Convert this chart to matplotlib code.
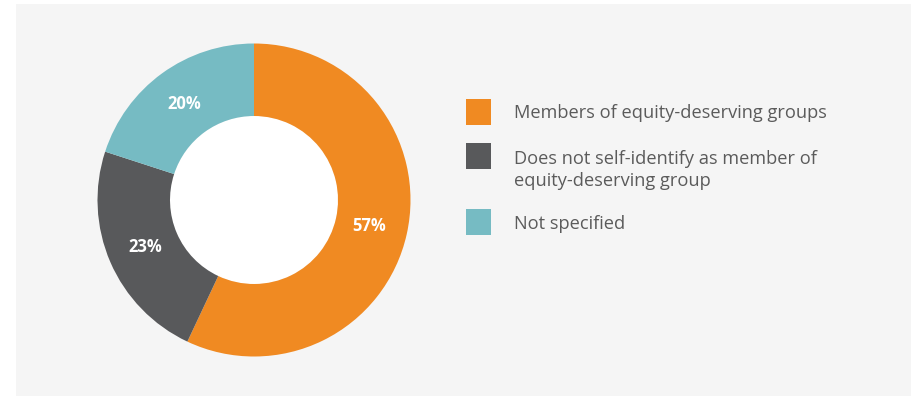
import matplotlib
matplotlib.use('Agg')
import matplotlib.pyplot as plt
from matplotlib.patches import Rectangle

W, H = 912, 396

# segment data
labels = ['Members of equity-deserving groups',
          'Does not self-identify as member of\nequity-deserving group',
          'Not specified']
shares = [57, 23, 20]
colors = ['#F08A22', '#58595B', '#76BBC3']

BG = '#F5F5F5'
TXT = '#5B5B5B'
FONT = ['Open Sans', 'DejaVu Sans']

fig = plt.figure(figsize=(W / 100, H / 100), dpi=100, facecolor='white')

def fx(px):
    return px / W

def fy(py):
    return 1 - py / H

# grey panel behind everything
fig.patches.append(Rectangle((fx(16), 0), 1 - fx(16), fy(4), transform=fig.transFigure,
                             fc=BG, ec='none', zorder=-5))

# donut
cx, cy, R = 254, 200, 156.5
ax = fig.add_axes([fx(cx - R), fy(cy + R), 2 * R / W, 2 * R / H])
ax.set_facecolor('none')
wedges, _, autotexts = ax.pie(shares, colors=colors, startangle=90, counterclock=False,
                              radius=1, autopct='%d%%', pctdistance=0.755,
                              wedgeprops=dict(width=1 - 84 / R, edgecolor='none'),
                              textprops=dict(color='white', fontsize=12, fontweight='bold',
                                             family=FONT))
ax.add_patch(plt.Circle((0, 0), 84 / R, fc='white', ec='none', zorder=0))
ax.set_xlim(-1, 1)
ax.set_ylim(-1, 1)
ax.axis('off')

# legend
sq_top = [99, 143, 209]
txt_y = [113, 170, 224]
for lab, col, top, ty in zip(labels, colors, sq_top, txt_y):
    fig.patches.append(Rectangle((fx(466), fy(top + 26)), 25 / W, 26 / H,
                                 transform=fig.transFigure, fc=col, ec='none'))
    fig.text(fx(514), fy(ty), lab, ha='left', va='center', fontsize=13.15, color=TXT,
             family=FONT, linespacing=1.3)

fig.savefig('out.png', dpi=100, facecolor='white')
